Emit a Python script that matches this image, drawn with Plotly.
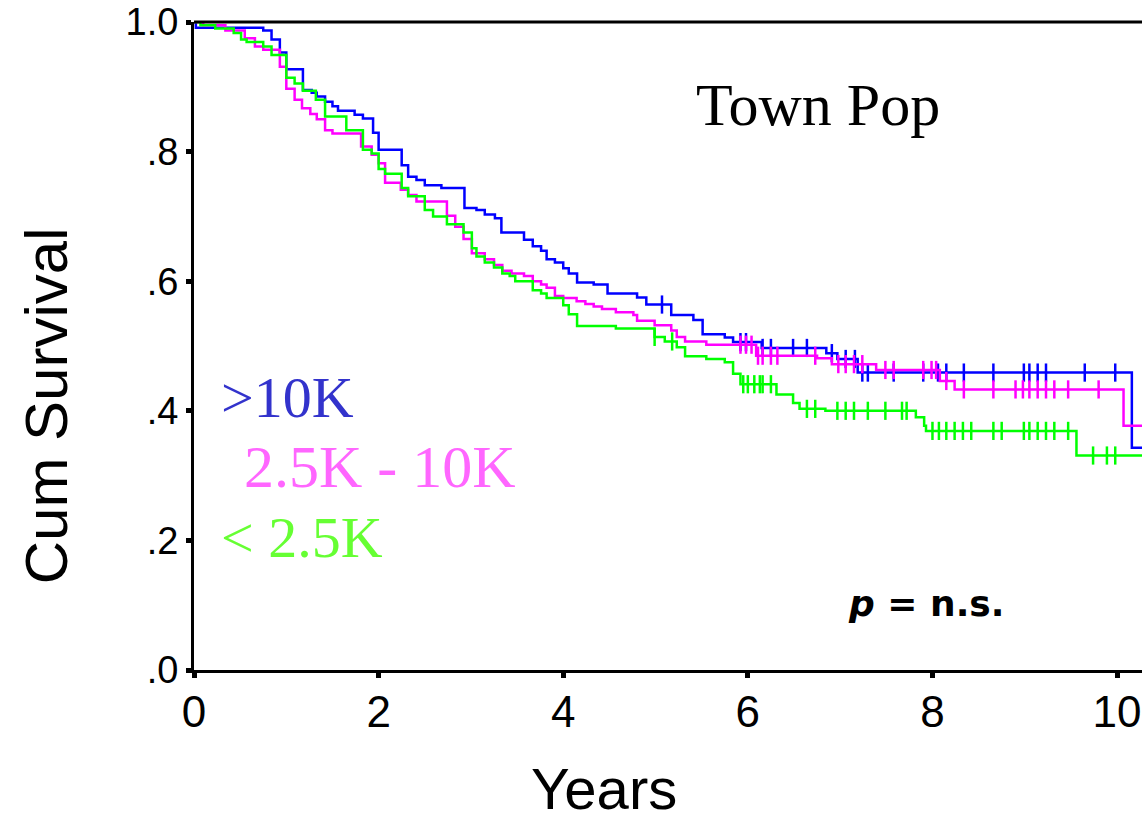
import numpy as np
import plotly.graph_objects as go

# ---------------- data ----------------
# Kaplan-Meier step curves: event times (years) and survival after each step
hi_times = [0.02, 0.75, 0.84, 0.93, 1.0, 1.18, 1.275, 1.33, 1.42, 1.50, 1.56, 1.74, 1.83, 1.94, 2.0,
            2.25, 2.32, 2.41, 2.50, 2.68, 2.93, 3.06, 3.15, 3.26, 3.33, 3.575, 3.67, 3.76, 3.82, 3.91,
            4.0, 4.06, 4.15, 4.33, 4.48, 4.80, 4.90, 5.17, 5.41, 5.51, 5.75, 5.84, 6.15, 6.85, 6.97,
            7.19, 10.16]
hi_surv = [0.991, 0.987, 0.973, 0.953, 0.927, 0.895, 0.891, 0.885, 0.877, 0.870, 0.863, 0.857, 0.851,
           0.829, 0.803, 0.779, 0.761, 0.756, 0.748, 0.744, 0.713, 0.710, 0.703, 0.697, 0.675, 0.664,
           0.654, 0.647, 0.634, 0.629, 0.620, 0.612, 0.598, 0.595, 0.581, 0.575, 0.564, 0.548, 0.540,
           0.518, 0.513, 0.506, 0.497, 0.489, 0.480, 0.459, 0.343]
hi_cens = [5.07, 5.92, 5.98, 6.16, 6.25, 6.49, 6.64, 6.91, 7.06, 7.16, 7.24, 7.30, 7.58, 7.90, 8.06,
           8.15, 8.34, 8.66, 8.99, 9.05, 9.14, 9.23, 9.65, 9.98]

mid_times = [0.10, 0.34, 0.55, 0.66, 0.75, 0.93, 1.0, 1.09, 1.17, 1.26, 1.33, 1.42, 1.50, 1.81, 1.925,
             2.0, 2.07, 2.24, 2.32, 2.41, 2.74, 2.83, 2.92, 3.01, 3.15, 3.25, 3.34, 3.44, 3.575, 3.67,
             3.76, 3.82, 3.91, 4.0, 4.145, 4.24, 4.33, 4.42, 4.57, 4.76, 4.80, 4.99, 5.17, 5.23, 5.32,
             5.55, 6.09, 6.75, 6.91, 7.39, 8.08, 8.24, 10.07]
mid_surv = [0.995, 0.987, 0.975, 0.962, 0.957, 0.931, 0.897, 0.880, 0.867, 0.858, 0.850, 0.833, 0.828,
            0.808, 0.795, 0.782, 0.752, 0.741, 0.733, 0.723, 0.701, 0.684, 0.665, 0.643, 0.634, 0.625,
            0.616, 0.612, 0.608, 0.600, 0.595, 0.590, 0.577, 0.574, 0.569, 0.565, 0.561, 0.557, 0.552,
            0.548, 0.539, 0.532, 0.524, 0.514, 0.507, 0.502, 0.485, 0.481, 0.472, 0.463, 0.446, 0.433,
            0.377]
mid_cens = [5.92, 5.98, 6.04, 6.11, 6.16, 6.25, 6.32, 6.73, 6.98, 7.06, 7.15, 7.24, 7.49, 7.58, 7.90,
            7.99, 8.04, 8.15, 8.34, 8.66, 8.90, 8.98, 9.05, 9.14, 9.23, 9.32, 9.47, 9.80]

lo_times = [0.07, 0.23, 0.43, 0.51, 0.57, 0.75, 0.84, 1.0, 1.09, 1.18, 1.32, 1.42, 1.65, 1.83, 1.925,
            2.0, 2.07, 2.25, 2.32, 2.50, 2.59, 2.74, 2.92, 3.01, 3.06, 3.15, 3.25, 3.34, 3.42, 3.48,
            3.67, 3.76, 3.82, 4.0, 4.06, 4.15, 4.57, 4.99, 5.10, 5.23, 5.32, 5.55, 5.75, 5.84, 5.92,
            6.31, 6.49, 6.56, 6.84, 7.82, 7.91, 7.93, 9.56]
lo_surv = [0.995, 0.990, 0.983, 0.973, 0.969, 0.962, 0.949, 0.914, 0.905, 0.894, 0.880, 0.854, 0.833,
           0.803, 0.797, 0.773, 0.766, 0.744, 0.731, 0.710, 0.700, 0.688, 0.675, 0.651, 0.638, 0.629,
           0.621, 0.612, 0.608, 0.600, 0.586, 0.581, 0.574, 0.563, 0.549, 0.531, 0.527, 0.514, 0.507,
           0.498, 0.484, 0.480, 0.475, 0.457, 0.441, 0.425, 0.412, 0.403, 0.400, 0.390, 0.377, 0.369,
           0.331]
lo_cens = [4.99, 5.18, 5.95, 6.00, 6.07, 6.13, 6.16, 6.25, 6.64, 6.73, 6.97, 7.06, 7.15, 7.30, 7.49,
           7.67, 7.72, 8.00, 8.07, 8.15, 8.24, 8.33, 8.42, 8.66, 8.75, 8.99, 9.05, 9.14, 9.23, 9.32,
           9.47, 9.74, 9.89, 9.98]

group_labels = [">10K", "2.5K - 10K", "< 2.5K"]
line_colors = ["#0000ff", "#ff00ff", "#00ff00"]
label_colors = ["#3333cc", "#ff66ff", "#66ff33"]

y_tickvals = [0, 0.2, 0.4, 0.6, 0.8, 1.0]
y_ticktext = [".0", ".2", ".4", ".6", ".8", "1.0"]
x_tickvals = [0, 2, 4, 6, 8, 10]
x_ticktext = ["0", "2", "4", "6", "8", "10"]

T_END = 10.3
X_MAX = 10.27

fig = go.Figure()


def step_value(times, surv, t):
    idx = np.searchsorted(np.asarray(times), t, side="right") - 1
    return 1.0 if idx < 0 else surv[idx]


groups = [(hi_times, hi_surv, hi_cens), (mid_times, mid_surv, mid_cens), (lo_times, lo_surv, lo_cens)]
for (tt, ss, cc), name, col in zip(groups, group_labels, line_colors):
    xs = [0.0] + list(tt) + [T_END]
    ys = [1.0] + list(ss) + [ss[-1]]
    fig.add_trace(go.Scatter(x=xs, y=ys, mode="lines", line=dict(color=col, width=2.5, shape="hv"),
                             name=name, showlegend=False, hoverinfo="skip"))
    fig.add_trace(go.Scatter(x=cc, y=[step_value(tt, ss, c) for c in cc], mode="markers",
                             marker=dict(symbol="line-ns", size=13, line=dict(color=col, width=2.5)),
                             showlegend=False, hoverinfo="skip"))

fig.update_layout(
    width=1142, height=822,
    margin=dict(l=194, r=0, t=22, b=152),
    paper_bgcolor="white", plot_bgcolor="white",
    xaxis=dict(range=[0, X_MAX], tickvals=x_tickvals, ticktext=x_ticktext, showgrid=False, zeroline=False,
               showline=True, linecolor="black", linewidth=3, ticks="outside", ticklen=5, tickwidth=5,
               tickcolor="black", ticklabeloverflow="allow", ticklabelstandoff=-4,
               tickfont=dict(family="Liberation Sans, Arial", size=44, color="black")),
    yaxis=dict(range=[0, 1.0], tickvals=y_tickvals, ticktext=y_ticktext, showgrid=False, zeroline=False,
               showline=True, linecolor="black", linewidth=3, ticks="outside", ticklen=5, tickwidth=5,
               tickcolor="black",
               tickfont=dict(family="Liberation Sans, Arial", size=38, color="black")),
    shapes=[dict(type="line", xref="paper", yref="paper", x0=0, x1=1, y0=1, y1=1,
                 line=dict(color="black", width=3))],
)

# axis titles placed as annotations (pixel offsets relative to the plot area)
fig.add_annotation(xref="paper", yref="paper", x=0, y=0.407, xshift=-148, text="Cum Survival",
                   textangle=-90, showarrow=False, xanchor="center", yanchor="middle",
                   font=dict(family="Liberation Sans, Arial", size=60, color="black"))
fig.add_annotation(xref="paper", yref="paper", x=0.432, y=0, yshift=-118, text="Years",
                   showarrow=False, xanchor="center", yanchor="middle",
                   font=dict(family="Liberation Sans, Arial", size=58, color="black"))

fig.add_annotation(x=6.76, y=0.872, text="Town Pop", showarrow=False, xanchor="center", yanchor="middle",
                   font=dict(family="Liberation Serif, Times New Roman", size=60, color="black"))
label_pos = [(0.27, 0.421), (0.52, 0.313), (0.27, 0.205)]
label_sizes = [58, 60, 58]
for (lx, ly), txt, col, sz in zip(label_pos, group_labels, label_colors, label_sizes):
    fig.add_annotation(x=lx, y=ly, text=txt, showarrow=False, xanchor="left", yanchor="middle",
                       font=dict(family="Liberation Serif, Times New Roman", size=sz, color=col))
fig.add_annotation(x=7.93, y=0.102, text="<b><i>p</i> = n.s.</b>", showarrow=False, xanchor="center",
                   yanchor="middle", font=dict(family="DejaVu Sans, Verdana", size=36, color="black"))

fig.write_html("out.html")
